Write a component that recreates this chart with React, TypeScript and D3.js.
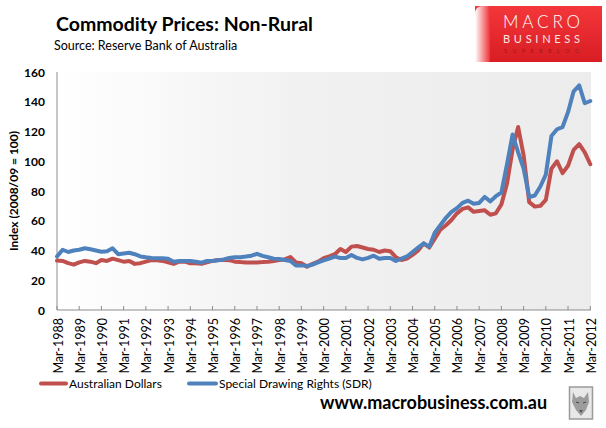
import React, { useMemo } from "react";
import * as d3 from "d3";

// quarterly readings, Mar-1988 .. Mar-2012
const audValues = [
  33.2, 33, 31.5, 30.5,
  32, 33, 32.5, 31.5,
  33.6, 33, 34.5, 33.5,
  32.5, 33, 31, 31.5,
  32.5, 33.6, 33.5, 33,
  32, 31, 32.5, 32.5,
  31.4, 31.5, 31, 32,
  33, 33.6, 33.6, 33.5,
  32.5, 32.2, 32, 32,
  32, 32.2, 32.5, 33,
  33.6, 34, 35.6, 32,
  31.5, 29.1, 31, 32.5,
  34.8, 36, 37.5, 41,
  39, 42.6, 43, 42,
  41, 40.5, 39, 40,
  39.5, 35.5, 33.6, 34.5,
  37, 40, 44.8, 42,
  48, 54, 57, 60.5,
  65, 68, 69, 66,
  66.5, 67, 64, 65,
  71, 85, 108, 123,
  104, 72.5, 69.5, 70,
  74, 95, 100, 92,
  97, 107.6, 111.5, 106,
  98,
];

const sdrValues = [
  36, 40.5, 39, 40,
  40.5, 41.5, 40.8, 40,
  39.2, 39.5, 41.5, 37.5,
  38, 38.5, 37.5, 36,
  35.4, 35, 34.8, 34.8,
  34.5, 32.5, 33, 33,
  33, 32.5, 31.8, 33,
  33, 33.5, 34, 35,
  35.4, 35.5, 35.9, 36.5,
  37.8, 36.4, 35.5, 34.5,
  34.3, 33.6, 33, 30,
  30, 29.6, 30.5, 32,
  33.4, 34.5, 35.9, 35,
  35, 37, 35, 34,
  35, 36.5, 34.5, 35,
  35, 33, 34.5, 36,
  39, 42, 44.8, 42.6,
  52, 57, 62, 66,
  68.5, 72, 73.5, 71.5,
  72, 76, 73, 76.5,
  79, 98, 118, 106,
  95, 76, 77, 83,
  91, 117, 121.5, 123,
  133, 147, 151, 139,
  140.5,
];

const tickLabels = [
  "Mar-1988", "Mar-1989", "Mar-1990", "Mar-1991", "Mar-1992", "Mar-1993",
  "Mar-1994", "Mar-1995", "Mar-1996", "Mar-1997", "Mar-1998", "Mar-1999",
  "Mar-2000", "Mar-2001", "Mar-2002", "Mar-2003", "Mar-2004", "Mar-2005",
  "Mar-2006", "Mar-2007", "Mar-2008", "Mar-2009", "Mar-2010", "Mar-2011",
  "Mar-2012",
];

const yTickValues = [0, 20, 40, 60, 80, 100, 120, 140, 160];

const RED = "#c0504d";
const BLUE = "#4f81bd";
const FONT = "Lato, 'Open Sans', sans-serif";

export default function App() {
  const W = 606;
  const H = 428;
  const left = 57;
  const right = 591;
  const top = 72;
  const bottom = 310;

  const start = new Date(1988, 2, 1);
  const end = new Date(2012, 2, 1);

  const { y, audPath, sdrPath, ticks } = useMemo(() => {
    const x = d3.scaleTime().domain([start, end]).range([left, 590.3]);
    const y = d3.scaleLinear().domain([0, 160]).range([bottom, top]);
    const dates = audValues.map((_, i) => d3.timeMonth.offset(start, i * 3));
    const line = d3
      .line<number>()
      .x((_, i) => x(dates[i]))
      .y((d) => y(d));
    const ticks = tickLabels.map((label, i) => ({
      label,
      pos: x(d3.timeYear.offset(start, i)),
    }));
    return { y, audPath: line(audValues), sdrPath: line(sdrValues), ticks };
  }, []);

  return (
    <svg
      width={W}
      height={H}
      style={{ position: "absolute", left: 0, top: 0, background: "#fff" }}
      fontFamily={FONT}
    >
      <defs>
        <linearGradient id="plotBg" x1="0" x2="1" y1="0" y2="0">
          <stop offset="0" stopColor="#ffffff" />
          <stop offset="0.45" stopColor="#f1f1f1" />
          <stop offset="1" stopColor="#ececec" />
        </linearGradient>
        <linearGradient id="logoBg" x1="0" x2="0" y1="0" y2="1">
          <stop offset="0" stopColor="#f3373b" />
          <stop offset="1" stopColor="#d81d23" />
        </linearGradient>
        <linearGradient id="logoCurl" x1="0" x2="1" y1="0" y2="0">
          <stop offset="0" stopColor="#ffffff" />
          <stop offset="1" stopColor="#ef3237" />
        </linearGradient>
      </defs>

      {/* Title block */}
      <text x={56} y={30.5} fontSize={19.5} fontWeight={700} fill="#000">
        Commodity Prices: Non-Rural
      </text>
      <text x={54} y={50} fontSize={12.5} fill="#000">
        Source: Reserve Bank of Australia
      </text>

      {/* Logo */}
      <g>
        <rect x={475} y={6} width={127} height={56} fill="url(#logoBg)" />
        <path d="M475,62 L475,14 Q475,6 483,6 L490,6 L490,62 Z" fill="url(#logoCurl)" />
        <text x={503} y={28} fontSize={17} fontWeight={300} fill="#fff" textLength={77} lengthAdjust="spacing">
          MACRO
        </text>
        <text x={503} y={43} fontSize={11} fill="#ffe4e4" textLength={77} lengthAdjust="spacing">
          BUSINESS
        </text>
        <text x={504} y={52.5} fontSize={5.5} fill="#a3141a" textLength={75} lengthAdjust="spacing">
          SUPERBLOG
        </text>
      </g>

      {/* Plot area */}
      <rect x={left} y={top} width={right - left} height={bottom - top} fill="url(#plotBg)" />

      {/* Y axis */}
      <line x1={left} x2={left} y1={top} y2={bottom} stroke="#8c8c8c" strokeWidth={1} />
      {yTickValues.map((v) => (
        <text
          key={v}
          x={45}
          y={y(v)}
          textAnchor="end"
          dominantBaseline="central"
          fontSize={12}
          fontWeight={700}
          fill="#000"
        >
          {v}
        </text>
      ))}
      <text
        transform={`translate(13,191) rotate(-90)`}
        textAnchor="middle"
        dominantBaseline="central"
        fontSize={12}
        fontWeight={700}
        fill="#000"
      >
        Index (2008/09 = 100)
      </text>

      {/* X axis */}
      <line x1={left} x2={right} y1={bottom} y2={bottom} stroke="#8c8c8c" strokeWidth={1} />
      {ticks.map((t) => (
        <g key={t.label}>
          <line x1={t.pos} x2={t.pos} y1={bottom - 4} y2={bottom} stroke="#8c8c8c" strokeWidth={1} />
          <text
            transform={`translate(${t.pos + 1},318) rotate(-90)`}
            textAnchor="end"
            dominantBaseline="central"
            fontSize={12.5}
            fill="#000"
          >
            {t.label}
          </text>
        </g>
      ))}

      {/* Series */}
      <path d={audPath || ""} fill="none" stroke={RED} strokeWidth={4} strokeLinejoin="round" strokeLinecap="round" />
      <path d={sdrPath || ""} fill="none" stroke={BLUE} strokeWidth={4} strokeLinejoin="round" strokeLinecap="round" />

      {/* Legend */}
      <line x1={41} x2={66} y1={383.5} y2={383.5} stroke={RED} strokeWidth={4} strokeLinecap="round" />
      <text x={69} y={383.5} dominantBaseline="central" fontSize={12} fill="#000">
        Australian Dollars
      </text>
      <line x1={189} x2={216} y1={383.5} y2={383.5} stroke={BLUE} strokeWidth={4} strokeLinecap="round" />
      <text x={219} y={383.5} dominantBaseline="central" fontSize={12} fill="#000">
        Special Drawing Rights (SDR)
      </text>

      {/* Footer */}
      <text x={320} y={409} fontSize={18} fontWeight={700} fill="#000">
        www.macrobusiness.com.au
      </text>

      {/* Wolf badge */}
      <g>
        <rect x={569.5} y={387} width={23} height={32} fill="#e8e8e8" stroke="#9a9a9a" strokeWidth={1.5} />
        <path
          d="M573,392 L576,398 L580,396 L584,398 L588,392 L589,402 L586,410 L581,416 L576,410 L572,402 Z"
          fill="#9c9c9c"
        />
        <path d="M576,402 L579,403 M583,403 L586,402" stroke="#444" strokeWidth={1} />
        <path d="M579,410 L581,413 L583,410" fill="#555" />
      </g>
    </svg>
  );
}
